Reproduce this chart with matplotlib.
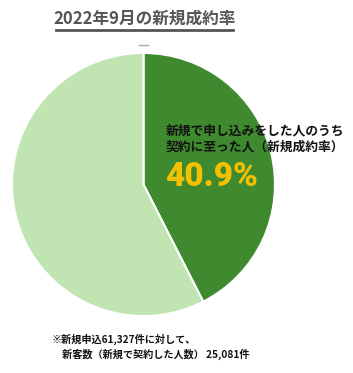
import matplotlib
matplotlib.use("Agg")
import matplotlib.pyplot as plt
from matplotlib.lines import Line2D

plt.rcParams['font.family'] = ['Noto Sans CJK JP', 'DejaVu Sans']

# data (slice sizes as drawn in the picture; label text as printed)
labels = ['新規成約', 'その他']
shares = [42.5, 57.5]
colors = ['#3f8a2e', '#c1e4b3']
title = '2022年9月の新規成約率'
inner_label = '新規で申し込みをした人のうち\n契約に至った人（新規成約率）'
rate_text = '40.9%'
note = '※新規申込61,327件に対して、\n\u3000新客数（新規で契約した人数） 25,081件'

W, H = 353, 373
fig = plt.figure(figsize=(W / 100, H / 100), dpi=100)

# pie axes: center (143.5, 184.5) px, radius 131.5 px
r = 131.5
cx, cy = 143.5, H - 184.5
ax = fig.add_axes([(cx - r) / W, (cy - r) / H, 2 * r / W, 2 * r / H])
ax.pie(shares, colors=colors, startangle=90, counterclock=False, radius=1,
       wedgeprops=dict(edgecolor='white', linewidth=1.5))
ax.set_xlim(-1, 1)
ax.set_ylim(-1, 1)
ax.set_aspect('equal')
ax.axis('off')

# title with underline
fig.text(144.5 / W, 1 - 19 / H, title, ha='center', va='center',
         fontsize=12, fontweight='bold', color='#555555')
fig.add_artist(Line2D([56 / W, 233 / W], [1 - 30 / H, 1 - 30 / H],
                      color='#555555', lw=2, transform=fig.transFigure))
# small dash above pie
fig.add_artist(Line2D([139 / W, 148 / W], [1 - 45 / H, 1 - 45 / H],
                      color='#aaaaaa', lw=1, transform=fig.transFigure))

fig.text(166 / W, 1 - 124 / H, inner_label, ha='left', va='top',
         fontsize=9.2, fontweight='bold', color='#111111', linespacing=1.35)
fig.text(165 / W, 1 - 177 / H, rate_text, ha='left', va='center',
         fontsize=24, fontweight='black', color='#f5c000',
         family=['Roboto', 'DejaVu Sans'])

fig.text(52 / W, 1 - 334 / H, note, ha='left', va='top',
         fontsize=7.3, fontweight='bold', color='#111111', linespacing=1.35)

fig.savefig('out.png', dpi=100)
